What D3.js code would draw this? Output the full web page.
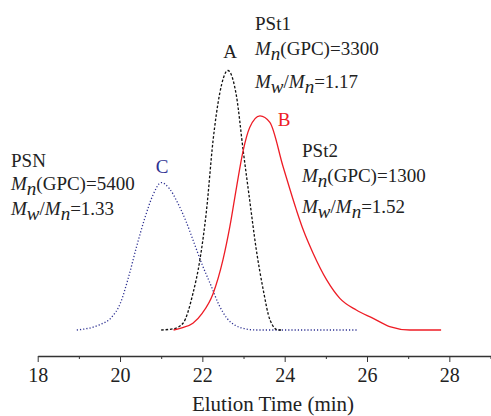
<!DOCTYPE html>
<html lang="en">
  <head>
    <meta charset="UTF-8">
    <title>GPC Elution Curves</title>
    <script src="https://d3js.org/d3.v7.min.js"></script>
    <style>
      body, html {
        margin: 0;
        padding: 0;
        background: white;
        overflow: hidden;
      }
      svg {
        display: block;
        font-family: "Liberation Serif", "Times New Roman", serif;
      }
      .axis path, .axis line {
        stroke: #333;
      }
    </style>
  </head>
  <body>
    <svg width="491" height="416"></svg>
    <script>
      // elution time (min) / normalised detector response
      const timeC = [18.95, 19.5, 19.8, 20.0, 20.2, 20.4, 20.6, 20.8, 21.0, 21.2, 21.4, 21.6, 21.8, 22.0, 22.2, 22.4, 22.6, 22.8, 23.0, 23.3, 25.75];
      const valC  = [0, 0.02, 0.05, 0.10, 0.20, 0.32, 0.43, 0.52, 0.568, 0.545, 0.49, 0.42, 0.335, 0.25, 0.175, 0.098, 0.045, 0.018, 0.006, 0, 0];

      const timeA = [21.0, 21.3, 21.53, 21.77, 21.94, 22.1, 22.26, 22.42, 22.62, 22.83, 22.99, 23.15, 23.31, 23.48, 23.64, 23.84, 23.95];
      const valA  = [0, 0.005, 0.026, 0.14, 0.27, 0.46, 0.73, 0.91, 1.0, 0.9, 0.694, 0.5, 0.31, 0.154, 0.04, 0, 0];

      const timeB = [21.3, 21.5, 21.77, 22.0, 22.26, 22.5, 22.67, 22.83, 22.99, 23.15, 23.4, 23.64, 23.96, 24.29, 24.45, 24.69, 25.02, 25.34, 25.74, 26.15, 26.55, 27.04, 27.8];
      const valB  = [0, 0.008, 0.026, 0.065, 0.14, 0.27, 0.4, 0.55, 0.69, 0.78, 0.825, 0.8, 0.63, 0.46, 0.386, 0.296, 0.193, 0.122, 0.077, 0.045, 0.013, 0, 0];

      const majorTicks = [18, 20, 22, 24, 26, 28];
      const minorTicks = [19, 21, 23, 25, 27, 29];

      const svg = d3.select("svg");

      const x = d3.scaleLinear().domain([18, 29]).range([37.7, 490.5]);
      const y = d3.scaleLinear().domain([0, 1]).range([330, 70.5]);

      const line = d3.line()
        .x(d => x(d[0]))
        .y(d => y(d[1]))
        .curve(d3.curveMonotoneX);

      const series = [
        { t: timeC, v: valC, color: "#2e3192", dash: "1.2,2" },
        { t: timeA, v: valA, color: "#111", dash: "2.6,1.8" },
        { t: timeB, v: valB, color: "#ee1c25", dash: null }
      ];

      series.forEach(s => {
        svg.append("path")
          .datum(s.t.map((t, i) => [t, s.v[i]]))
          .attr("d", line)
          .attr("fill", "none")
          .attr("stroke", s.color)
          .attr("stroke-width", 1.3)
          .attr("stroke-dasharray", s.dash);
      });

      // axis
      const axisY = 356;
      svg.append("g")
        .attr("class", "axis")
        .attr("transform", `translate(0,${axisY})`)
        .call(d3.axisBottom(x).tickValues(minorTicks).tickSize(3).tickFormat(""))
        .call(g => g.select(".domain").remove());

      svg.append("g")
        .attr("class", "axis")
        .attr("transform", `translate(0,${axisY})`)
        .call(d3.axisBottom(x).tickValues(majorTicks).tickSize(6).tickSizeOuter(0).tickPadding(6))
        .call(g => g.select(".domain").attr("stroke-width", 1.5))
        .call(g => g.selectAll("text")
          .attr("font-family", "Liberation Serif, serif")
          .attr("font-size", 20)
          .attr("fill", "#222"));

      svg.append("text")
        .attr("x", 273)
        .attr("y", 411)
        .attr("text-anchor", "middle")
        .attr("font-size", 21)
        .attr("fill", "#222")
        .text("Elution Time (min)");

      // peak letters
      const peakLabels = [
        { text: "A", x: 230, y: 58, color: "#222" },
        { text: "B", x: 284, y: 126, color: "#ee1c25" },
        { text: "C", x: 162, y: 173, color: "#2e3192" }
      ];
      peakLabels.forEach(p => {
        svg.append("text")
          .attr("x", p.x).attr("y", p.y)
          .attr("text-anchor", "middle")
          .attr("font-size", 19)
          .attr("fill", p.color)
          .text(p.text);
      });

      // sample annotations
      const names = ["PSt1", "PSt2", "PSN"];
      const mnValues = ["3300", "1300", "5400"];
      const pdiValues = ["1.17", "1.52", "1.33"];
      const blocks = [
        { x: 255, y: [30, 55, 88] },
        { x: 302, y: [157, 182, 213] },
        { x: 11, y: [167, 190, 215] }
      ];

      blocks.forEach((b, i) => {
        const g = svg.append("g").attr("fill", "#222").attr("font-size", 19);
        g.append("text").attr("x", b.x).attr("y", b.y[0]).text(names[i]);

        const t1 = g.append("text").attr("x", b.x).attr("y", b.y[1]);
        t1.append("tspan").attr("font-style", "italic").text("M");
        t1.append("tspan").attr("font-style", "italic").attr("dy", 5).text("n");
        t1.append("tspan").attr("dy", -5).text("(GPC)=" + mnValues[i]);

        const t2 = g.append("text").attr("x", b.x).attr("y", b.y[2]);
        t2.append("tspan").attr("font-style", "italic").text("M");
        t2.append("tspan").attr("font-style", "italic").attr("dy", 5).text("w");
        t2.append("tspan").attr("dy", -5).text("/");
        t2.append("tspan").attr("font-style", "italic").text("M");
        t2.append("tspan").attr("font-style", "italic").attr("dy", 5).text("n");
        t2.append("tspan").attr("dy", -5).text("=" + pdiValues[i]);
      });
    </script>
  </body>
</html>
